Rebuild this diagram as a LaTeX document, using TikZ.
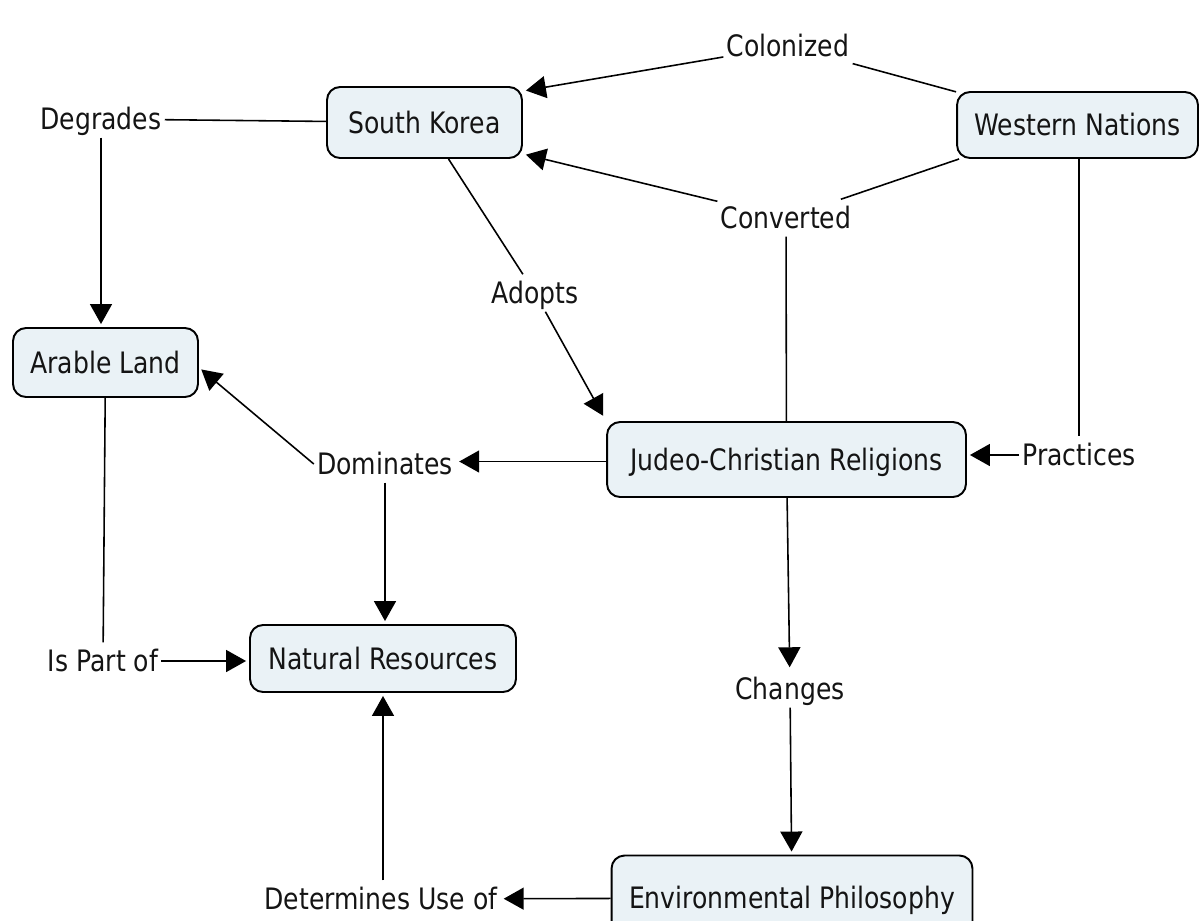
\documentclass[tikz,border=0pt]{standalone}
\usepackage{fontspec}
\setmainfont[FakeStretch=0.85]{DejaVu Sans}
\usetikzlibrary{arrows.meta}
\definecolor{boxfill}{RGB}{234,242,246}
\definecolor{ink}{RGB}{20,20,20}
\begin{document}
\begin{tikzpicture}[x=0.02cm,y=-0.02cm,
  font=\fontsize{16.8}{20}\selectfont,
  concept/.style={draw=black, line width=1.1pt, rounded corners=0.26cm, fill=boxfill,
    inner sep=0pt, text=ink, text height=15pt, text depth=2.5pt},
  lbl/.style={inner sep=0.06cm, text=ink, text height=15pt, text depth=2.5pt},
  conn/.style={line width=0.9pt, draw=black},
  arr/.style={conn, -{Triangle[length=0.4cm,width=0.44cm]}, shorten >=0.06cm}]
\useasboundingbox (0,0) rectangle (1200,920);
\clip (0,0) rectangle (1200,920);

% concepts
\node[concept, minimum width=3.9cm, minimum height=1.42cm] (sk) at (424.5,122.5) {South Korea};
\node[concept, minimum width=4.82cm, minimum height=1.32cm] (wn) at (1077.5,125) {Western Nations};
\node[concept, minimum width=3.7cm, minimum height=1.38cm] (al) at (105.5,362.5) {Arable Land};
\node[concept, minimum width=7.18cm, minimum height=1.5cm] (jc) at (786.5,459.5) {Judeo-Christian Religions};
\node[concept, minimum width=5.32cm, minimum height=1.34cm] (nr) at (383,658.5) {Natural Resources};
\node[concept, minimum width=7.22cm, minimum height=1.7cm] (ep) at (792,898) {Environmental Philosophy};

% linking phrases
\node[lbl] (col) at (788,46) {Colonized};
\node[lbl] (conv) at (786,218) {Converted};
\node[lbl] (dg) at (101,119) {Degrades};
\node[lbl] (ad) at (535,293) {Adopts};
\node[lbl] (pr) at (1079,455) {Practices};
\node[lbl] (dom) at (385,464) {Dominates};
\node[lbl] (ip) at (103,661) {Is Part of};
\node[lbl] (ch) at (790,689) {Changes};
\node[lbl] (det) at (381,899) {Determines Use of};

% connectors
\draw[conn] (wn) -- (col);
\draw[arr] (col) -- ([yshift=-0.1cm]sk.north east);
\draw[conn] ([xshift=0.06cm]wn.south west) -- (conv);
\draw[arr] (conv) -- ([yshift=0.1cm]sk.south east);
\draw[conn] (jc) -- (conv);
\draw[conn] ([xshift=0.48cm]sk.south) -- (ad);
\draw[arr, shorten >=0.12cm] (ad) -- (jc.north west);
\draw[conn] (sk) -- (dg);
\draw[arr] (dg) -- (dg |- al.north);
\draw[conn] (pr |- wn.south) -- (pr);
\draw[arr] (pr) -- (pr -| jc.east);
\draw[arr] ([yshift=-0.04cm]jc.west) -- ([yshift=-0.04cm]jc.west -| dom.east);
\draw[arr] (dom.west) -- ([yshift=-0.1cm]al.east);
\draw[arr] (dom) -- (dom |- nr.north);
\draw[conn] (al) -- (ip);
\draw[arr] (ip) -- (ip -| nr.west);
\draw[arr] (jc) -- (ch);
\draw[arr] (ch) -- (ep);
\draw[arr] (ep) -- (det);
\draw[arr] (nr |- det.north) -- (nr);
\end{tikzpicture}
\end{document}
